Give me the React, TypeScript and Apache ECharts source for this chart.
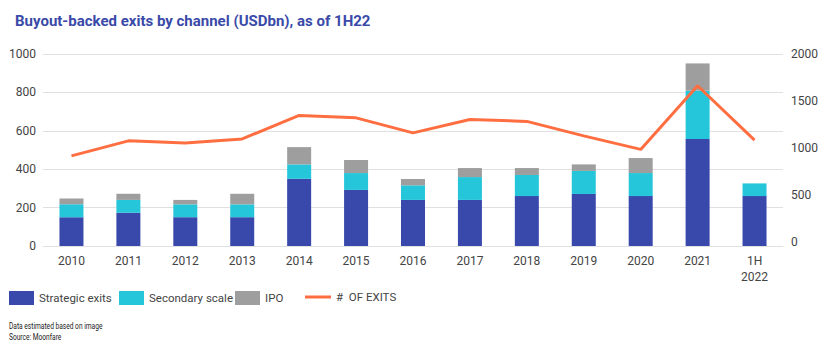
import React, { useEffect, useRef } from "react";
import * as echarts from "echarts";

const categories = ["2010", "2011", "2012", "2013", "2014", "2015", "2016", "2017", "2018", "2019", "2020", "2021", "1H\n2022"];
const strategicExits = [150, 173, 150, 150, 350, 292, 240, 240, 260, 271, 260, 557, 260];
const secondaryScale = [67, 67, 67, 67, 75, 88, 76, 119, 110, 120, 120, 252, 66];
const ipo = [31, 32, 23, 55, 90, 68, 33, 47, 36, 34, 78, 142, 0];
const numberOfExits = [916, 1076, 1052, 1097, 1347, 1321, 1161, 1304, 1283, 1129, 985, 1662, 1084];
const leftTicks = [0, 200, 400, 600, 800, 1000];
const rightTicks = [0, 500, 1000, 1500, 2000];

const FONT = "Roboto, sans-serif";
const COLORS = { strategic: "#3949ab", secondary: "#26c6da", ipo: "#9e9e9e", exits: "#ff6e40" };

export default function App() {
  const ref = useRef<HTMLDivElement>(null);
  useEffect(() => {
    if (!ref.current) return;
    const chart = echarts.init(ref.current, null, { renderer: "svg" });
    const barBase = {
      type: "bar",
      stack: "total",
      barWidth: 24,
      xAxisIndex: 0,
      yAxisIndex: 0,
    };
    const legendText = { fontFamily: FONT, fontSize: 11.5, color: "#444" };
    const plain = (v: number) => String(v);
    const barLegend = { top: 291, padding: 0, itemWidth: 25, itemHeight: 14, icon: "rect", textStyle: legendText };
    chart.setOption({
      animation: false,
      backgroundColor: "#fff",
      title: {
        text: "Buyout-backed exits by channel (USDbn), as of 1H22",
        left: 10,
        top: 8,
        textStyle: { fontFamily: FONT, fontWeight: "bold", fontSize: 15, color: "#3a4aa8" },
      },
      grid: [
        { left: 43, right: 47, top: 54, bottom: 105 },
        { left: 43, right: 47, top: 54, bottom: 109 },
      ],
      xAxis: [
        {
          type: "category",
          gridIndex: 0,
          data: categories,
          axisLine: { show: true, lineStyle: { color: "#e0e0e0" } },
          axisTick: { show: false },
          axisLabel: { fontFamily: FONT, fontSize: 12, color: "#444", margin: 7, lineHeight: 16 },
        },
        { type: "category", gridIndex: 1, data: categories, show: false },
      ],
      yAxis: [
        {
          type: "value",
          gridIndex: 0,
          min: leftTicks[0],
          max: leftTicks[leftTicks.length - 1],
          interval: 200,
          axisLine: { show: false },
          axisTick: { show: false },
          splitLine: { lineStyle: { color: "#e0e0e0", width: 1 } },
          axisLabel: { fontFamily: FONT, fontSize: 12, color: "#444", margin: 7, formatter: plain },
        },
        {
          type: "value",
          gridIndex: 1,
          position: "right",
          min: rightTicks[0],
          max: rightTicks[rightTicks.length - 1],
          interval: 500,
          axisLine: { show: false },
          axisTick: { show: false },
          splitLine: { show: false },
          axisLabel: { fontFamily: FONT, fontSize: 12, color: "#444", margin: 8, formatter: plain },
        },
      ],
      legend: [
        { ...barLegend, left: 9, data: ["Strategic exits"] },
        { ...barLegend, left: 119, data: ["Secondary scale"] },
        { ...barLegend, left: 235, data: ["IPO"] },
        {
          left: 305,
          top: 291,
          padding: 0,
          itemWidth: 26,
          itemHeight: 3,
          data: [{ name: "#  OF EXITS", icon: "rect" }],
          textStyle: legendText,
        },
      ],
      graphic: [
        {
          type: "text",
          x: 9,
          y: 320,
          scaleX: 0.78,
          style: {
            text: "Data estimated based on image\nSource: Moonfare",
            fontFamily: FONT,
            fontSize: 8.5,
            lineHeight: 11.5,
            fill: "#222",
          },
        },
      ],
      series: [
        { ...barBase, name: "Strategic exits", data: strategicExits, itemStyle: { color: COLORS.strategic } },
        { ...barBase, name: "Secondary scale", data: secondaryScale, itemStyle: { color: COLORS.secondary } },
        { ...barBase, name: "IPO", data: ipo, itemStyle: { color: COLORS.ipo } },
        {
          type: "line",
          name: "#  OF EXITS",
          xAxisIndex: 1,
          yAxisIndex: 1,
          data: numberOfExits,
          symbol: "none",
          z: 5,
          lineStyle: { color: COLORS.exits, width: 3 },
          itemStyle: { color: COLORS.exits },
        },
      ],
    });
    return () => chart.dispose();
  }, []);
  return <div ref={ref} style={{ position: "fixed", left: 0, top: 0, width: 830, height: 351 }} />;
}
